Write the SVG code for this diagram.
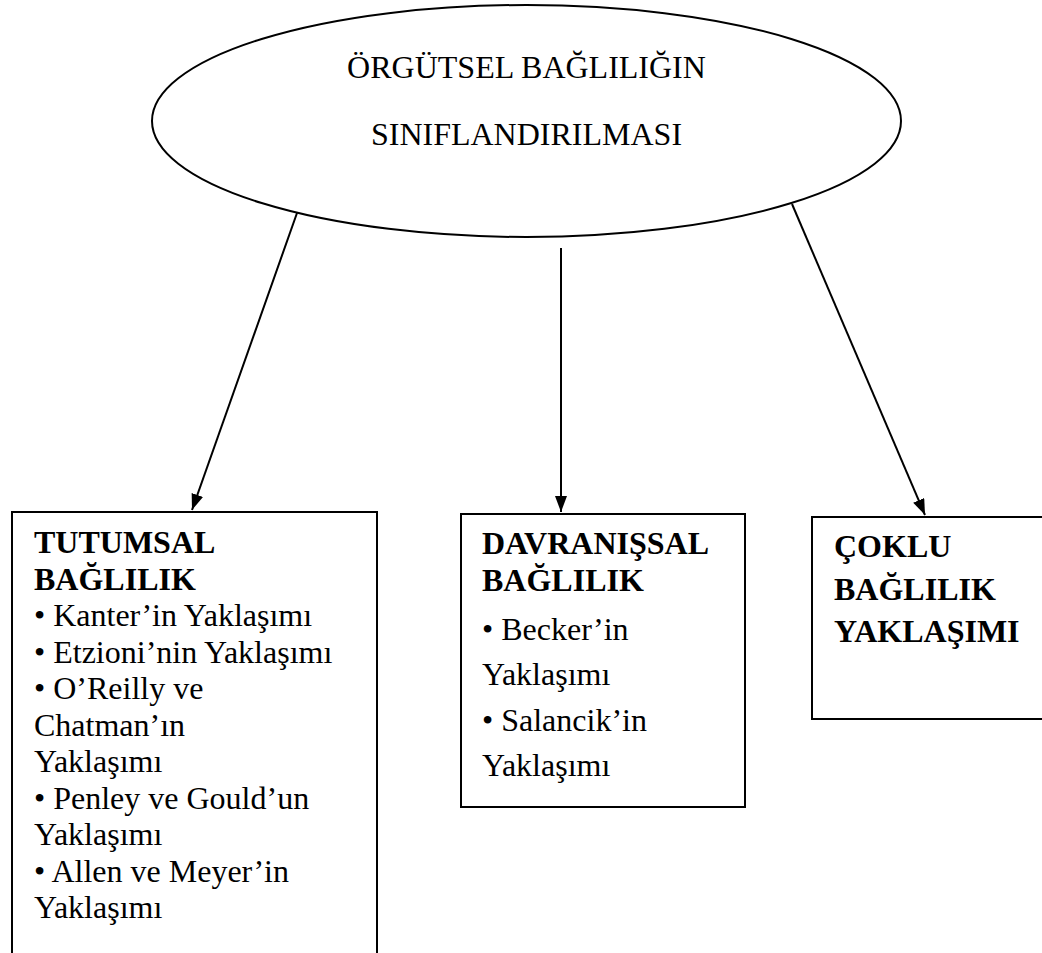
<svg xmlns="http://www.w3.org/2000/svg" width="1042" height="953" viewBox="0 0 1042 953">
  <style>
    .shape { fill: #ffffff; stroke: #000000; stroke-width: 2; }
    .edge { fill: none; stroke: #000000; stroke-width: 2; }
    .txt { font-family: "Liberation Serif", "Times New Roman", serif; font-size: 32px; fill: #000000; }
    .bold { font-weight: bold; }
  </style>
  <defs>
    <marker id="arrow" markerUnits="userSpaceOnUse" markerWidth="18" markerHeight="14" refX="16" refY="6" orient="auto">
      <path d="M0,0 L16,6 L0,12 z" fill="#000000"/>
    </marker>
  </defs>
  <rect width="1042" height="953" fill="#ffffff"/>

  <!-- root ellipse -->
  <g id="root">
    <ellipse class="shape" cx="526.5" cy="121" rx="374.5" ry="116"/>
    <text class="txt" x="526.5" y="78" text-anchor="middle">ÖRGÜTSEL BAĞLILIĞIN</text>
    <text class="txt" x="526.5" y="145" text-anchor="middle">SINIFLANDIRILMASI</text>
  </g>

  <!-- connectors -->
  <g id="connectors">
    <line class="edge" x1="297" y1="213" x2="192" y2="510" marker-end="url(#arrow)"/>
    <line class="edge" x1="561" y1="248" x2="561" y2="512" marker-end="url(#arrow)"/>
    <line class="edge" x1="792" y1="204" x2="925" y2="515" marker-end="url(#arrow)"/>
  </g>

  <!-- attitudinal commitment -->
  <g id="tutumsal">
    <rect class="shape" x="12" y="512" width="365" height="460"/>
    <text class="txt bold" x="34" y="553">TUTUMSAL</text>
    <text class="txt bold" x="34" y="589.5">BAĞLILIK</text>
    <text class="txt" x="34" y="626">• Kanter’in Yaklaşımı</text>
    <text class="txt" x="34" y="662.5">• Etzioni’nin Yaklaşımı</text>
    <text class="txt" x="34" y="699">• O’Reilly ve</text>
    <text class="txt" x="34" y="735.5">Chatman’ın</text>
    <text class="txt" x="34" y="772">Yaklaşımı</text>
    <text class="txt" x="34" y="808.5">• Penley ve Gould’un</text>
    <text class="txt" x="34" y="845">Yaklaşımı</text>
    <text class="txt" x="34" y="881.5">• Allen ve Meyer’in</text>
    <text class="txt" x="34" y="918">Yaklaşımı</text>
  </g>

  <!-- behavioural commitment -->
  <g id="davranissal">
    <rect class="shape" x="461" y="514" width="284" height="293"/>
    <text class="txt bold" x="482" y="554">DAVRANIŞSAL</text>
    <text class="txt bold" x="482" y="591">BAĞLILIK</text>
    <text class="txt" x="482" y="640">• Becker’in</text>
    <text class="txt" x="482" y="685">Yaklaşımı</text>
    <text class="txt" x="482" y="731">• Salancik’in</text>
    <text class="txt" x="482" y="776">Yaklaşımı</text>
  </g>

  <!-- multiple commitment approach -->
  <g id="coklu">
    <rect class="shape" x="812" y="517" width="240" height="202"/>
    <text class="txt bold" x="834" y="557">ÇOKLU</text>
    <text class="txt bold" x="834" y="599.5">BAĞLILIK</text>
    <text class="txt bold" x="834" y="642">YAKLAŞIMI</text>
  </g>
</svg>
